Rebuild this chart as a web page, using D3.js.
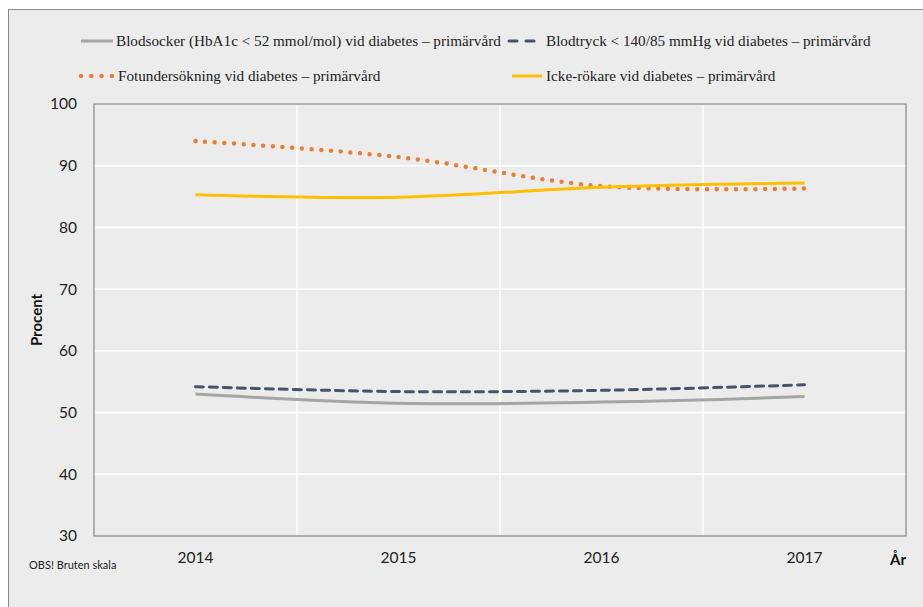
<!DOCTYPE html>
<html><head><meta charset="utf-8">
<script src="https://cdn.jsdelivr.net/npm/d3@7"></script>
<style>body{margin:0;background:#fff}svg{display:block}</style>
</head><body>
<svg id="c" width="923" height="607"></svg>
<script>
const years = ["2014","2015","2016","2017"];
const yTicks = [30,40,50,60,70,80,90,100];
const blodsocker = [53.0, 51.5, 51.7, 52.6];
const blodtryck = [54.2, 53.4, 53.6, 54.5];
const fotundersokning = [94.0, 91.4, 86.7, 86.3];
const ickeRokare = [85.3, 84.9, 86.5, 87.2];
const seriesNames = [
  "Blodsocker (HbA1c < 52 mmol/mol) vid diabetes – primärvård",
  "Blodtryck < 140/85 mmHg vid diabetes – primärvård",
  "Fotundersökning vid diabetes – primärvård",
  "Icke-rökare vid diabetes – primärvård"
];

const series = [
  {name: seriesNames[0], values: blodsocker, color:"#a5a5a5", width:3, dash:null, cap:"butt"},
  {name: seriesNames[1], values: blodtryck, color:"#44546a", width:3, dash:"8,6", cap:"round"},
  {name: seriesNames[2], values: fotundersokning, color:"#ed7d31", width:4.5, dash:"0,9.7", cap:"round"},
  {name: seriesNames[3], values: ickeRokare, color:"#ffc000", width:3, dash:null, cap:"butt"}
];

const svg = d3.select("#c");
svg.append("rect").attr("x",8.5).attr("y",9.5).attr("width",930).attr("height",620)
  .attr("fill","#ececec").attr("stroke","#8c8c8c").attr("stroke-width",1);

const L=94, R=906, T=104, B=536;
const x = d3.scaleBand().domain(years).range([L,R]).padding(0);
const y = d3.scaleLinear().domain([30,100]).range([B,T]);

// gridlines
const g = svg.append("g");
g.selectAll("line.h").data(yTicks.slice(1)).join("line")
  .attr("x1",L).attr("x2",R).attr("y1",d=>y(d)).attr("y2",d=>y(d))
  .attr("stroke","#ffffff").attr("stroke-width",1.5);
g.selectAll("line.v").data(years.slice(1)).join("line")
  .attr("x1",d=>x(d)).attr("x2",d=>x(d)).attr("y1",T).attr("y2",B)
  .attr("stroke","#ffffff").attr("stroke-width",1.5);
svg.append("rect").attr("x",L).attr("y",T).attr("width",R-L).attr("height",B-T)
  .attr("fill","none").attr("stroke","#9a9a9a").attr("stroke-width",1.5);

// axes
const yAxis = svg.append("g").attr("transform",`translate(${L},0)`)
  .call(d3.axisLeft(y).tickValues(yTicks).tickSize(0).tickPadding(17));
yAxis.select(".domain").remove();
yAxis.selectAll("text").attr("font-family","Lato, sans-serif").attr("font-size",15.5).attr("fill","#222");

const xAxis = svg.append("g").attr("transform",`translate(0,${B})`)
  .call(d3.axisBottom(x).tickSize(0).tickPadding(16));
xAxis.select(".domain").remove();
xAxis.selectAll("text").attr("font-family","Lato, sans-serif").attr("font-size",15.5).attr("fill","#222");

svg.append("text").attr("transform","translate(42,320) rotate(-90)")
  .attr("text-anchor","middle").attr("font-family","Lato, sans-serif").attr("font-weight","bold")
  .attr("font-size",15).attr("fill","#111").text("Procent");
svg.append("text").attr("x",890).attr("y",565)
  .attr("font-family","Lato, sans-serif").attr("font-weight","bold")
  .attr("font-size",15).attr("fill","#111").text("År");
svg.append("text").attr("x",29).attr("y",569)
  .attr("font-family","Lato, sans-serif").attr("font-size",11).attr("fill","#222").text("OBS! Bruten skala");

// lines
const line = d3.line().x((d,i)=>x(years[i])+x.bandwidth()/2).y(d=>y(d)).curve(d3.curveCatmullRom.alpha(0.5));
series.forEach(s=>{
  svg.append("path").attr("d",line(s.values)).attr("fill","none")
    .attr("stroke",s.color).attr("stroke-width",s.width)
    .attr("stroke-dasharray",s.dash).attr("stroke-linecap",s.cap);
});

// legend
const leg = [
  {s:series[0], x1:81, x2:113, tx:116, y:41},
  {s:series[1], x1:509, x2:541, tx:546, y:41},
  {s:series[2], x1:81, x2:113, tx:118, y:76},
  {s:series[3], x1:512, x2:542, tx:546, y:76}
];
leg.forEach(l=>{
  svg.append("line").attr("x1",l.x1).attr("x2",l.x2).attr("y1",l.y).attr("y2",l.y)
    .attr("stroke",l.s.color).attr("stroke-width",l.s.width)
    .attr("stroke-dasharray",l.s===series[1]?"8,9":(l.s===series[2]?"0,10.3":null))
    .attr("stroke-linecap",l.s.cap);
  svg.append("text").attr("x",l.tx).attr("y",l.y+5)
    .attr("font-family","'Liberation Serif', serif").attr("font-size",15.2).attr("fill","#222")
    .text(l.s.name);
});
</script>
</body></html>
